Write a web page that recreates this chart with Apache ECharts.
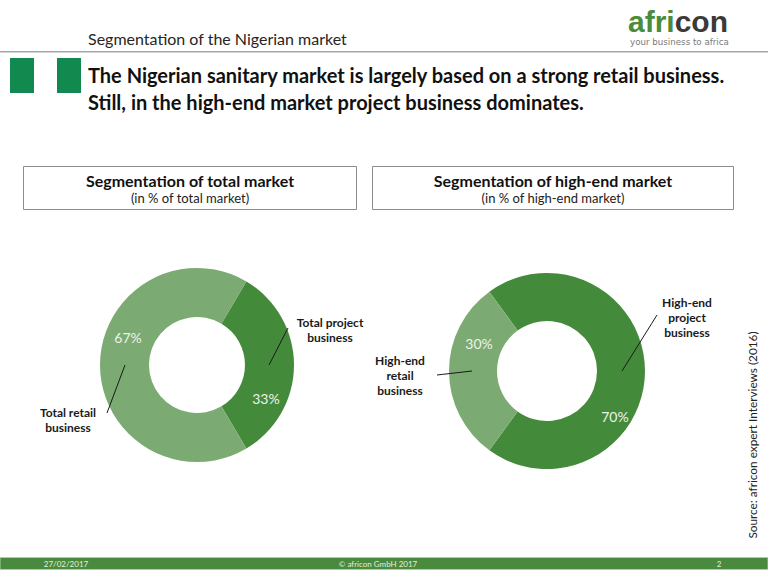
<!DOCTYPE html>
<html>
<head>
<meta charset="utf-8">
<script src="https://cdn.jsdelivr.net/npm/echarts@6/dist/echarts.min.js"></script>
<style>
html,body{margin:0;padding:0;background:#ffffff;}
#chart{width:768px;height:576px;}
</style>
</head>
<body>
<div id="chart"></div>
<script>
// ---------- data ----------
const totalCategories = ['Total project\nbusiness', 'Total retail\nbusiness'];
const totalValues = [33, 67];
const highEndCategories = ['High-end\nproject\nbusiness', 'High-end\nretail\nbusiness'];
const highEndValues = [70, 30];
const pageSubtitle = 'Segmentation of the Nigerian market';
const headlineLines = ['The Nigerian sanitary market is largely based on a strong retail business.', 'Still, in the high-end market project business dominates.'];
const boxTitles = ['Segmentation of total market', 'Segmentation of high-end market'];
const boxSubtitles = ['(in % of total market)', '(in % of high-end market)'];
const sourceText = 'Source: africon expert Interviews (2016)';
const footerTexts = ['27/02/2017', '\u00A9 africon GmbH 2017', '2'];

// ---------- style / layout ----------
const DARK = '#448a3b';
const LIGHT = '#7caa73';
const FONT = 'Lato, "Open Sans", sans-serif';
const LEFT = {
  cx: 197, cy: 365, r0: 48, r: 97, pctRot: -24, pctDy: 3, lineR: 72,
  labelOffsets: [[133, -35], [-129, 55]],
  lineEnds: [[91, -37], [-90, 48]]
};
const RIGHT = {
  cx: 547, cy: 371, r0: 50, r: 98, pctRot: -28, pctDy: 9, lineR: 75,
  labelOffsets: [[140, -54], [-147, 4]],
  lineEnds: [[110, -56], [-110, 4]]
};

function startOf(values) {
  const sum = values.reduce((a, b) => a + b, 0);
  return values[0] / sum * 180;
}
function midAngles(values, start) {
  const sum = values.reduce((a, b) => a + b, 0);
  let cum = 0;
  return values.map(v => {
    const m = start - (cum + v / 2) / sum * 360;
    cum += v;
    return m * Math.PI / 180;
  });
}
function donutSeries(L, names, values) {
  const start = startOf(values);
  const mids = midAngles(values, start);
  const data = names.map((n, i) => ({name: n, value: values[i], itemStyle: {color: i === 0 ? DARK : LIGHT}}));
  const clear = () => names.map((n, i) => ({name: n, value: values[i], itemStyle: {color: 'rgba(0,0,0,0)'}}));
  return [
    {
      type: 'pie', z: 1, center: [L.cx, L.cy], radius: [L.r0, L.r], startAngle: start, clockwise: true,
      silent: true, avoidLabelOverlap: false, label: {show: false}, labelLine: {show: false},
      itemStyle: {borderWidth: 0}, emphasis: {disabled: true}, data: data
    },
    {
      type: 'pie', z: 2, center: [L.cx, L.cy], radius: [L.r0, L.r], startAngle: start + L.pctRot, clockwise: true,
      silent: true, avoidLabelOverlap: false,
      label: {show: true, position: 'inside', formatter: '{c}%', color: '#eef3ec', fontFamily: FONT, fontSize: 14},
      labelLine: {show: false},
      labelLayout: function () { return {dy: L.pctDy}; },
      emphasis: {disabled: true}, data: clear()
    },
    {
      type: 'pie', z: 3, center: [L.cx, L.cy], radius: [L.r0, L.r], startAngle: start, clockwise: true,
      silent: true, avoidLabelOverlap: false,
      label: {show: true, position: 'outside', formatter: '{b}', color: '#1a1a1a', fontFamily: FONT,
        fontWeight: 'bold', fontSize: 12, lineHeight: 15, align: 'center'},
      labelLine: {show: true, showAbove: true, length: 8, length2: 2, lineStyle: {color: '#1a1a1a', width: 1}},
      labelLayout: function (p) {
        const i = p.dataIndex;
        const o = L.labelOffsets[i];
        const e = L.lineEnds[i];
        const sx = L.cx + L.lineR * Math.cos(mids[i]);
        const sy = L.cy - L.lineR * Math.sin(mids[i]);
        const ex = L.cx + e[0], ey = L.cy + e[1];
        return {
          x: L.cx + o[0], y: L.cy + o[1], align: 'center', verticalAlign: 'middle',
          labelLinePoints: [[sx, sy], [sx + (ex - sx) * 0.85, sy + (ey - sy) * 0.85], [ex, ey]]
        };
      },
      emphasis: {disabled: true}, data: clear()
    }
  ];
}

function txt(text, x, y, opts) {
  const o = opts || {};
  return {
    type: 'text', x: x, y: y, rotation: o.rotation || 0, silent: true, z: 10,
    style: Object.assign({
      text: text, fill: o.fill || '#222', fontFamily: o.fontFamily || FONT, fontSize: o.fontSize || 12,
      fontWeight: o.fontWeight || 'normal', align: o.align || 'left', textAlign: o.align || 'left',
      verticalAlign: 'middle', textVerticalAlign: 'middle'
    }, o.extra || {})
  };
}

const LOGO_FONT = '"Liberation Sans", Arial, sans-serif';
const graphics = [
  // header
  txt(pageSubtitle, 88, 38, {fontSize: 16, fill: '#262626'}),
  {type: 'rect', silent: true, shape: {x: 0, y: 51, width: 768, height: 1.5}, style: {fill: '#a6a6a6'}},
  {type: 'rect', silent: true, shape: {x: 10, y: 58, width: 24, height: 35}, style: {fill: '#12894f'}},
  {type: 'rect', silent: true, shape: {x: 57, y: 58, width: 24, height: 35}, style: {fill: '#12894f'}},
  txt(headlineLines[0], 88, 75, {fontSize: 20, fontWeight: 'bold', fill: '#111'}),
  txt(headlineLines[1], 88, 102, {fontSize: 20, fontWeight: 'bold', fill: '#111'}),
  // logo
  {
    type: 'text', x: 628, y: 21, silent: true,
    style: {
      text: '{g|afri}{d|con}', align: 'left', textAlign: 'left', verticalAlign: 'middle', textVerticalAlign: 'middle',
      fontFamily: LOGO_FONT, fontSize: 30, fontWeight: 'bold', lineHeight: 26,
      rich: {
        g: {fill: '#4a8b3c', color: '#4a8b3c', fontFamily: LOGO_FONT, fontSize: 30, fontWeight: 'bold', lineHeight: 26},
        d: {fill: '#3a3a3a', color: '#3a3a3a', fontFamily: LOGO_FONT, fontSize: 30, fontWeight: 'bold', lineHeight: 26}
      }
    }
  },
  txt('your business to africa', 630, 42, {fontSize: 8.7, fill: '#7a7a7a', fontFamily: '"DejaVu Sans", sans-serif'}),
  // boxes
  {type: 'rect', silent: true, shape: {x: 23.5, y: 166.5, width: 333, height: 43}, style: {fill: 'none', stroke: '#8c8c8c', lineWidth: 1}},
  {type: 'rect', silent: true, shape: {x: 372.5, y: 166.5, width: 361, height: 43}, style: {fill: 'none', stroke: '#8c8c8c', lineWidth: 1}},
  txt(boxTitles[0], 190, 180, {fontSize: 16, fontWeight: 'bold', align: 'center', fill: '#111'}),
  txt(boxSubtitles[0], 190, 198, {fontSize: 13, align: 'center', fill: '#222'}),
  txt(boxTitles[1], 553, 180, {fontSize: 16, fontWeight: 'bold', align: 'center', fill: '#111'}),
  txt(boxSubtitles[1], 553, 198, {fontSize: 13, align: 'center', fill: '#222'}),
  // source
  txt(sourceText, 752, 435, {fontSize: 11.8, align: 'center', rotation: Math.PI / 2, fill: '#222'}),
  // footer
  {type: 'rect', silent: true, shape: {x: 0, y: 557.5, width: 768, height: 12}, style: {fill: '#4a8a3e', stroke: '#a9cf9f', lineWidth: 1}},
  txt(footerTexts[0], 66, 564, {fontSize: 8, align: 'center', fill: '#e4eedf'}),
  txt(footerTexts[1], 378, 564, {fontSize: 8, align: 'center', fill: '#e4eedf'}),
  txt(footerTexts[2], 719, 564, {fontSize: 8, align: 'center', fill: '#e4eedf'})
];

const chart = echarts.init(document.getElementById('chart'), null, {renderer: 'svg', width: 768, height: 576});
chart.setOption({
  backgroundColor: '#ffffff',
  animation: false,
  graphic: graphics,
  series: [].concat(
    donutSeries(LEFT, totalCategories, totalValues),
    donutSeries(RIGHT, highEndCategories, highEndValues)
  )
});
</script>
</body>
</html>
